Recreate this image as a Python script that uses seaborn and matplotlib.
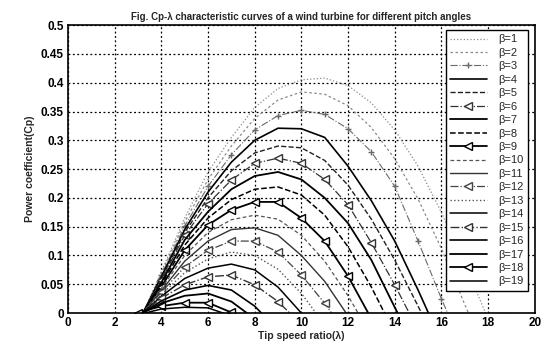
import matplotlib
matplotlib.use("Agg")
import matplotlib.pyplot as plt
import seaborn as sns
import pandas as pd

# ---------------- data ----------------
lam = [3, 4, 5, 6, 7, 8, 9, 10, 11, 12, 13, 14, 15, 16, 17, 18, 19]

cp_b1 = [-0.02, 0.072, 0.165, 0.245, 0.305, 0.357, 0.39, 0.405, 0.408, 0.395, 0.365, 0.318, 0.255, 0.175, 0.085, -0.01, -0.1]
cp_b2 = [-0.019, 0.069, 0.158, 0.232, 0.29, 0.338, 0.37, 0.384, 0.38, 0.36, 0.322, 0.268, 0.198, 0.112, 0.015, -0.08]
cp_b3 = [-0.018, 0.066, 0.151, 0.22, 0.275, 0.318, 0.343, 0.352, 0.345, 0.32, 0.28, 0.22, 0.125, 0.025, -0.07]
cp_b4 = [-0.017, 0.063, 0.145, 0.21, 0.262, 0.30, 0.321, 0.32, 0.305, 0.255, 0.195, 0.125, 0.04, -0.05]
cp_b5 = [-0.016, 0.06, 0.14, 0.2, 0.247, 0.278, 0.29, 0.287, 0.265, 0.222, 0.163, 0.092, 0.012, -0.07]
cp_b6 = [-0.015, 0.057, 0.135, 0.19, 0.231, 0.26, 0.269, 0.26, 0.232, 0.188, 0.122, 0.049, -0.03]
cp_b7 = [-0.014, 0.053, 0.127, 0.176, 0.215, 0.238, 0.245, 0.232, 0.2, 0.156, 0.092, 0.01, -0.07]
cp_b8 = [-0.013, 0.05, 0.118, 0.165, 0.197, 0.215, 0.219, 0.205, 0.17, 0.115, 0.045, -0.035]
cp_b9 = [-0.012, 0.046, 0.109, 0.153, 0.179, 0.193, 0.193, 0.165, 0.125, 0.064, -0.01]
cp_b10 = [-0.011, 0.043, 0.10, 0.14, 0.162, 0.17, 0.163, 0.135, 0.09, 0.03, -0.04]
cp_b11 = [-0.01, 0.039, 0.09, 0.125, 0.145, 0.148, 0.135, 0.10, 0.055, -0.005, -0.07]
cp_b12 = [-0.009, 0.036, 0.08, 0.109, 0.125, 0.125, 0.106, 0.066, 0.017, -0.04]
cp_b13 = [-0.008, 0.032, 0.07, 0.094, 0.106, 0.10, 0.076, 0.034, -0.02]
cp_b14 = [-0.007, 0.029, 0.06, 0.078, 0.085, 0.075, 0.045, 0.0, -0.05]
cp_b15 = [-0.006, 0.026, 0.049, 0.063, 0.066, 0.049, 0.02, -0.02]
cp_b16 = [-0.005, 0.021, 0.04, 0.048, 0.04, 0.012, -0.03]
cp_b17 = [-0.004, 0.017, 0.03, 0.034, 0.02, -0.01]
cp_b18 = [0.0005, 0.012, 0.018, 0.018, 0.001, -0.03]
cp_b19 = [-0.003, 0.007, 0.01, 0.009, -0.005, -0.03]

betas = list(range(1, 20))
series = [cp_b1, cp_b2, cp_b3, cp_b4, cp_b5, cp_b6, cp_b7, cp_b8, cp_b9, cp_b10,
          cp_b11, cp_b12, cp_b13, cp_b14, cp_b15, cp_b16, cp_b17, cp_b18, cp_b19]

x_ticks = [0, 2, 4, 6, 8, 10, 12, 14, 16, 18, 20]
y_ticks = [0, 0.05, 0.1, 0.15, 0.2, 0.25, 0.3, 0.35, 0.4, 0.45, 0.5]
y_tick_labels = ["0", "0.05", "0.1", "0.15", "0.2", "0.25", "0.3", "0.35", "0.4", "0.45", "0.5"]

# ---------------- styles ----------------
styles = {
    1: dict(ls=":", c="#8a8a8a", lw=0.9, m=None),
    2: dict(ls=(0, (2, 2)), c="#8a8a8a", lw=0.9, m=None),
    3: dict(ls="-.", c="#6a6a6a", lw=0.8, m="+"),
    4: dict(ls="-", c="black", lw=1.2, m=None),
    5: dict(ls="--", c="#222222", lw=1.0, m=None),
    6: dict(ls="-.", c="#333333", lw=0.9, m="<"),
    7: dict(ls="-", c="black", lw=1.3, m=None),
    8: dict(ls="--", c="black", lw=1.1, m=None),
    9: dict(ls="-", c="black", lw=1.3, m="<"),
    10: dict(ls=(0, (3, 2)), c="#555555", lw=0.9, m=None),
    11: dict(ls="-", c="#333333", lw=1.0, m=None),
    12: dict(ls="-.", c="#444444", lw=0.9, m="<"),
    13: dict(ls=":", c="#555555", lw=1.0, m=None),
    14: dict(ls="-", c="black", lw=1.1, m=None),
    15: dict(ls="-.", c="#333333", lw=1.0, m="<"),
    16: dict(ls="-", c="black", lw=1.2, m=None),
    17: dict(ls="-", c="black", lw=1.3, m=None),
    18: dict(ls="-", c="black", lw=1.3, m="<"),
    19: dict(ls="-", c="black", lw=1.1, m=None),
}

sns.set_theme(style="white")
plt.rcParams["font.family"] = ["Liberation Sans", "DejaVu Sans"]

fig = plt.figure(figsize=(5.44, 3.49), dpi=100)
ax = fig.add_axes([0.125, 0.103, 0.858, 0.825])

for b, cp in zip(betas, series):
    s = styles[b]
    df = pd.DataFrame({"lam": lam[:len(cp)], "cp": cp})
    kw = dict(linestyle=s["ls"], color=s["c"], linewidth=s["lw"], label=f"β={b}")
    if s["m"] is not None:
        kw.update(marker=s["m"], markersize=6 if s["m"] == "<" else 5,
                  markerfacecolor="white" if s["m"] == "<" else s["c"],
                  markeredgecolor=s["c"], markeredgewidth=1.0)
    sns.lineplot(data=df, x="lam", y="cp", ax=ax, sort=False, estimator=None, **kw)

ax.set_xlim(0, 20)
ax.set_ylim(0, 0.5)
ax.set_xticks(x_ticks)
ax.set_yticks(y_ticks)
ax.set_yticklabels(y_tick_labels)
ax.grid(True, color="black", linestyle=(0, (1.5, 2)), linewidth=0.9)
for sp in ax.spines.values():
    sp.set_color("black")
    sp.set_linewidth(1.2)
ax.tick_params(axis="both", direction="in", length=3, width=0.8, labelsize=8.5, pad=3, colors="black")
for t in ax.get_xticklabels() + ax.get_yticklabels():
    t.set_fontweight("bold")

ax.set_title("Fig. Cp-λ characteristic curves of a wind turbine for different pitch angles",
             fontsize=7, fontweight="bold", pad=4)
ax.set_xlabel("Tip speed ratio(λ)", fontsize=7.5, fontweight="bold", labelpad=1)
ax.set_ylabel("Power coefficient(Cp)", fontsize=7.5, fontweight="bold", labelpad=4)

leg = ax.legend(loc="upper right", bbox_to_anchor=(0.985, 0.983), fontsize=8,
                frameon=True, fancybox=False, framealpha=1, edgecolor="black",
                labelspacing=0.31, handlelength=3.3, handletextpad=1.0,
                borderpad=0.4, borderaxespad=0)
leg.get_frame().set_linewidth(1.0)

fig.savefig("out.png", dpi=100)
